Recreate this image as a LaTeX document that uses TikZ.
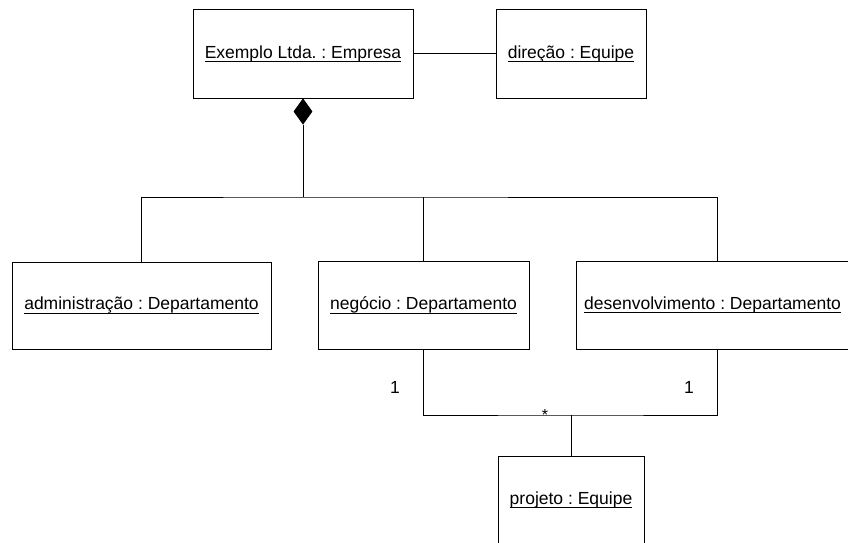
\documentclass[tikz,border=0pt]{standalone}
\usepackage{fontspec}
\setmainfont{Liberation Sans}
\usetikzlibrary{shapes.geometric}
\frenchspacing

% underlined object name (UML instance notation)
\newcommand\objlabel[1]{\sbox0{#1}\rlap{\rule[-4pt]{\wd0}{0.9pt}}\usebox0}

\begin{document}
\begin{tikzpicture}[x=1pt,y=-1pt,
  line width=1pt,
  objbox/.style={draw,rectangle,minimum height=88pt,inner sep=0pt,
                 font=\fontsize{17.5pt}{20pt}\selectfont},
  composite/.style={draw,fill=black,diamond,inner sep=0pt,
                    minimum width=18pt,minimum height=25pt},
  mult/.style={font=\fontsize{17.5pt}{20pt}\selectfont,inner sep=0pt}]
\useasboundingbox (0,0) rectangle (848,543);
\clip (0,0) rectangle (848,543);

% objects
\node[objbox,minimum width=220pt] (emp) at (303,54) {\objlabel{Exemplo Ltda. : Empresa}};
\node[objbox,minimum width=150pt] (dir) at (571,54) {\objlabel{direção : Equipe}};
\node[objbox,minimum width=259pt,minimum height=87pt] (adm) at (141.5,305.5) {\objlabel{administração : Departamento}};
\node[objbox,minimum width=211pt] (neg) at (423.5,305) {\objlabel{negócio : Departamento}};
\node[objbox,minimum width=282pt] (des) at (717,305) {\hspace*{-9pt}\objlabel{desenvolvimento : Departamento}};
\node[objbox,minimum width=146pt] (proj) at (571,500) {\objlabel{projeto : Equipe}};

% composition diamond below the company
\node[composite,anchor=north] (comp) at (emp.south) {};

% branch points
\coordinate (bus) at (303,197);
\coordinate (bus2) at (571,415);

% connectors
\draw (emp.east) -- (dir.west);
\draw (comp.south) -- (bus);
\draw (adm.north) |- (bus) -| (des.north);
\draw (neg.north) -- (neg.north |- bus);
\draw (neg.south) |- (bus2) -| (des.south);
\draw (bus2) -- (proj.north);

% multiplicities
\node[mult] (m1) at (395,387) {1};
\node[mult] (m2) at (689,387) {1};
\node[mult,font=\fontsize{16pt}{18pt}\selectfont,anchor=north] (m3) at (545,409) {*};
\end{tikzpicture}
\end{document}
